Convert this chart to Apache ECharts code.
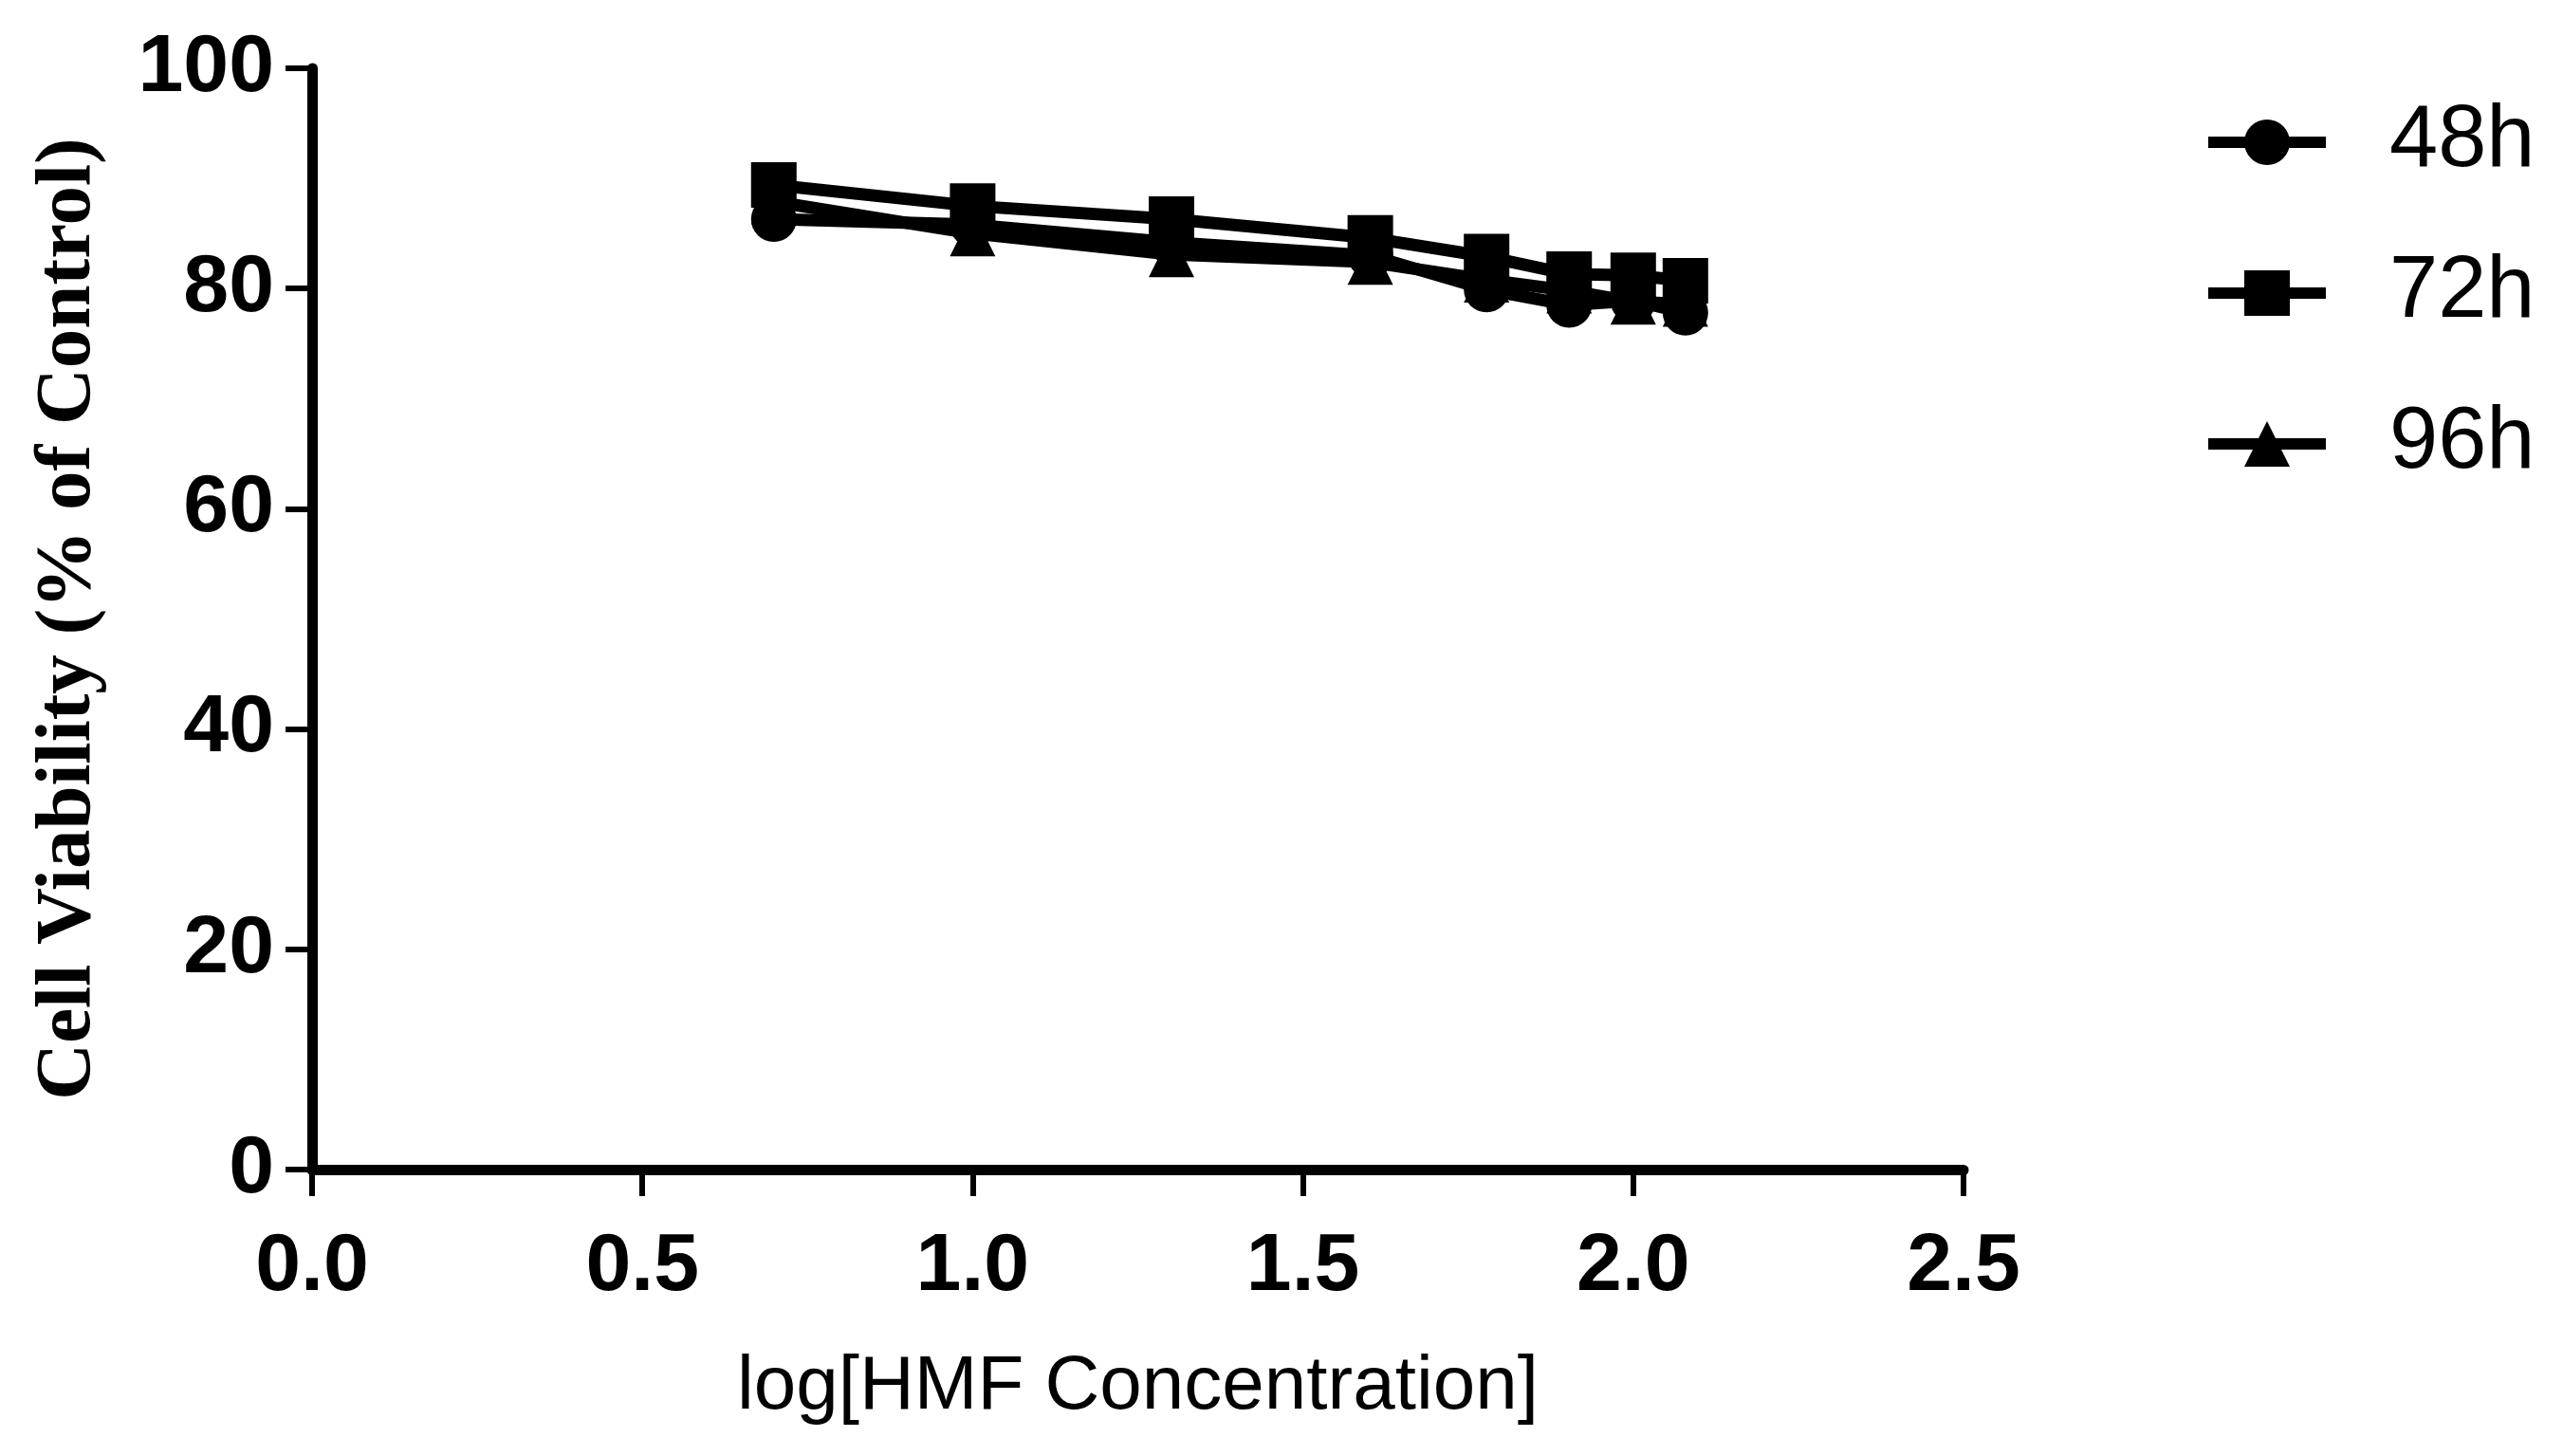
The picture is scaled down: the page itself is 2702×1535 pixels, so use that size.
<!DOCTYPE html>
<html>
<head>
<meta charset="utf-8">
<title>Cell viability</title>
<script src="https://cdn.jsdelivr.net/npm/echarts@6/dist/echarts.min.js"></script>
<style>
  html, body { margin: 0; padding: 0; background: #fff; }
  #chart { width: 2702px; height: 1535px; }
</style>
</head>
<body>
<div id="chart"></div>
<script>
// log10 of HMF concentration (5, 10, 20, 40, 60, 80, 100, 120)
const logConc = [0.699, 1.0, 1.301, 1.602, 1.778, 1.903, 2.0, 2.079]
const seriesNames = ['48h', '72h', '96h']
const viability48 = [86.3, 85.8, 84.2, 83.0, 79.9, 78.5, 78.9, 77.8]
const viability72 = [89.4, 87.5, 86.3, 84.6, 82.9, 81.3, 81.2, 80.7]
const viability96 = [87.9, 85.0, 83.1, 82.4, 80.8, 79.8, 78.8, 78.6]
const symbols = ['circle', 'rect', 'triangle']

const chart = echarts.init(document.getElementById('chart'))

const pair = (ys) => logConc.map((x, i) => [x, ys[i]])
const allValues = [viability48, viability72, viability96]

const series = seriesNames.map((name, i) => {
  return {
    name: name,
    type: 'line',
    data: pair(allValues[i]),
    symbol: symbols[i],
    symbolSize: 48,
    showAllSymbol: true,
    lineStyle: { color: '#000', width: 13 },
    itemStyle: { color: '#000' }
  }
})

const options = {
  backgroundColor: '#fff',
  animation: false,
  legend: {
    orient: 'vertical',
    left: 2322,
    top: 104,
    padding: 0,
    itemWidth: 124,
    itemHeight: 60,
    itemGap: 67,
    data: seriesNames,
    lineStyle: { width: 12, color: '#000' },
    itemStyle: { color: '#000' },
    textStyle: {
      fontFamily: 'Liberation Sans',
      fontSize: 92,
      color: '#000',
      padding: [0, 0, 0, 62]
    }
  },
  grid: {
    left: 329,
    right: 632,
    top: 72,
    bottom: 302,
    containLabel: false
  },
  xAxis: {
    type: 'value',
    min: 0,
    max: 2.5,
    interval: 0.5,
    name: 'log[HMF Concentration]',
    nameLocation: 'middle',
    nameGap: 190,
    nameTextStyle: {
      fontFamily: 'Liberation Sans',
      fontSize: 80,
      color: '#000'
    },
    axisLine: { lineStyle: { color: '#000', width: 11 } },
    axisTick: { length: 28, lineStyle: { color: '#000', width: 6 } },
    axisLabel: {
      margin: 60,
      fontFamily: 'Liberation Sans',
      fontWeight: 'bold',
      fontSize: 86,
      color: '#000',
      formatter: (v) => v.toFixed(1)
    },
    splitLine: { show: false }
  },
  yAxis: {
    type: 'value',
    min: 0,
    max: 100,
    interval: 20,
    name: 'Cell Viability (% of Control)',
    nameLocation: 'middle',
    nameGap: 215,
    nameTextStyle: {
      fontFamily: 'Liberation Serif',
      fontWeight: 'bold',
      fontSize: 83,
      color: '#000'
    },
    axisLine: { show: true, lineStyle: { color: '#000', width: 11 } },
    axisTick: { show: true, length: 28, lineStyle: { color: '#000', width: 6 } },
    axisLabel: {
      margin: 40,
      fontFamily: 'Liberation Sans',
      fontWeight: 'bold',
      fontSize: 86,
      color: '#000'
    },
    splitLine: { show: false }
  },
  series: series
}

chart.setOption(options)
</script>
</body>
</html>
